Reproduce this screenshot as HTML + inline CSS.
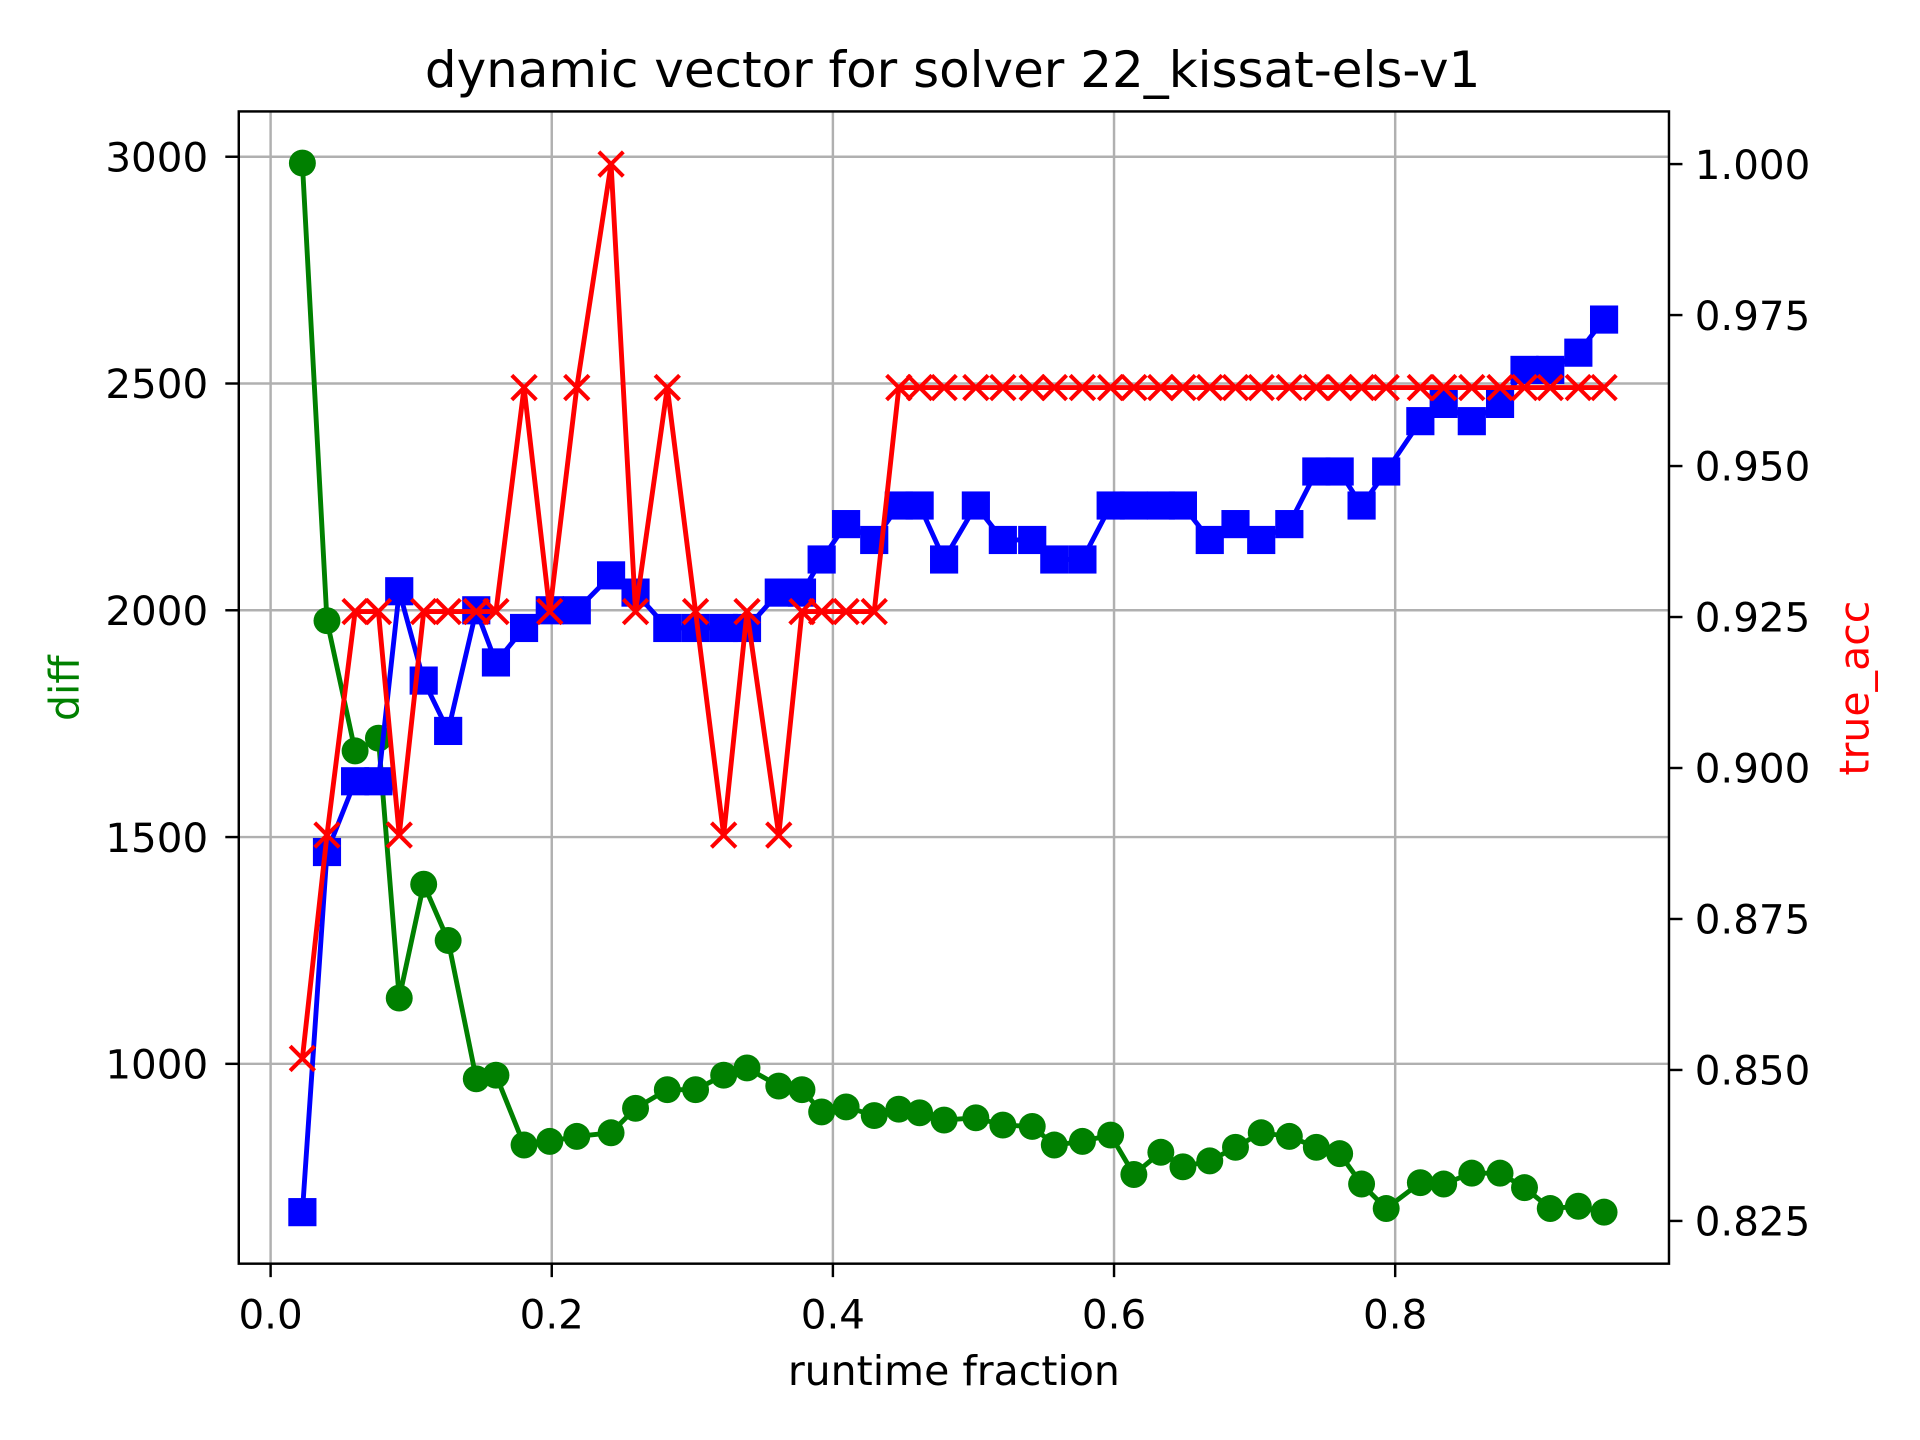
<!DOCTYPE html>
<html><head><meta charset="utf-8"><style>html,body{margin:0;padding:0;background:#fff}svg{display:block}</style></head>
<body>
<svg id="chart" width="1920" height="1440" viewBox="0 0 1568 1176" xmlns="http://www.w3.org/2000/svg" font-family="DejaVu Sans, Liberation Sans, sans-serif">
<rect width="1568" height="1176" fill="#fff"/>
<g id="grid"></g>
<g id="series"></g>
<rect x="195" y="91" width="1168" height="941" fill="none" stroke="#000" stroke-width="2"/>
<g id="axes"></g>
<text x="778" y="71" font-size="40.8" text-anchor="middle">dynamic vector for solver 22_kissat-els-v1</text>
<text x="779" y="1131" font-size="33.5" text-anchor="middle">runtime fraction</text>
<text transform="translate(64,562) rotate(-90)" font-size="33.5" text-anchor="middle" fill="green">diff</text>
<text transform="translate(1526,562) rotate(-90)" font-size="33.5" text-anchor="middle" fill="red">true_acc</text>
</svg>
<script>
const xs=[0.0226,0.0401,0.0601,0.0767,0.0915,0.1089,0.1263,0.1463,0.1603,0.1803,0.1986,0.2178,0.2422,0.2596,0.2822,0.3023,0.3223,0.3389,0.3615,0.3780,0.3920,0.4094,0.4294,0.4469,0.4617,0.4791,0.5017,0.5209,0.5418,0.5575,0.5775,0.5976,0.6141,0.6333,0.6490,0.6681,0.6864,0.7047,0.7247,0.7439,0.7605,0.7761,0.7936,0.8179,0.8345,0.8545,0.8746,0.8920,0.9103,0.9303,0.9486];
const diffVals=[2986,1977,1690,1718,1145,1396,1272,967,975,821,829,840,848,902,943,943,975,991,951,943,894,905,886,900,892,876,881,865,862,821,829,843,756,805,773,786,816,848,840,816,802,735,681,738,735,759,759,727,681,686,673];
const blueVals=[673,1467,1623,1623,2042,1845,1734,2000,1885,1961,2000,2000,2077,2039,1961,1961,1961,1961,2039,2039,2112,2190,2155,2231,2231,2112,2231,2155,2155,2112,2112,2231,2231,2231,2231,2155,2190,2155,2190,2306,2306,2231,2306,2417,2455,2417,2455,2530,2530,2568,2641];
const accVals=[0.8519,0.8889,0.9259,0.9259,0.8889,0.9259,0.9259,0.9259,0.9259,0.963,0.9259,0.963,1.0,0.9259,0.963,0.9259,0.8889,0.9259,0.8889,0.9259,0.9259,0.9259,0.9259,0.963,0.963,0.963,0.963,0.963,0.963,0.963,0.963,0.963,0.963,0.963,0.963,0.963,0.963,0.963,0.963,0.963,0.963,0.963,0.963,0.963,0.963,0.963,0.963,0.963,0.963,0.963,0.963];
const xTicks=[0,0.2,0.4,0.6,0.8];
const xTickLabels=["0.0","0.2","0.4","0.6","0.8"];
const yTicks=[1000,1500,2000,2500,3000];
const yTickLabels=["1000","1500","2000","2500","3000"];
const rTicks=[0.825,0.85,0.875,0.9,0.925,0.95,0.975,1.0];
const rTickLabels=["0.825","0.850","0.875","0.900","0.925","0.950","0.975","1.000"];

const NS="http://www.w3.org/2000/svg";
const FS=33;
const X=v=>221+v*1148;
const YL=v=>128+(3000-v)/500*185.2;
const YR=v=>134+(1-v)/0.025*123.3;
function mk(tag,attrs,parent){const e=document.createElementNS(NS,tag);for(const k in attrs)e.setAttribute(k,attrs[k]);parent.appendChild(e);return e;}
const grid=document.getElementById('grid'),axes=document.getElementById('axes'),ser=document.getElementById('series');
xTicks.forEach((t,i)=>{
  const g=mk('line',{x1:X(t),x2:X(t),y1:91,y2:1032,stroke:'#b0b0b0','stroke-width':2},grid);
  
  const tk=mk('line',{x1:X(t),x2:X(t),y1:1032,y2:1043,stroke:'#000','stroke-width':2},axes);
  
  const tx=mk('text',{x:X(t),y:1085,'font-size':FS,'text-anchor':'middle'},axes);tx.textContent=xTickLabels[i];
  
});
yTicks.forEach((t,i)=>{
  const g=mk('line',{x1:195,x2:1363,y1:YL(t),y2:YL(t),stroke:'#b0b0b0','stroke-width':2},grid);
  
  const tk=mk('line',{x1:184,x2:195,y1:YL(t),y2:YL(t),stroke:'#000','stroke-width':2},axes);
  
  const tx=mk('text',{x:170,y:YL(t)+12,'font-size':FS,'text-anchor':'end'},axes);tx.textContent=yTickLabels[i];
  
});
rTicks.forEach((t,i)=>{
  const tk=mk('line',{x1:1363,x2:1374,y1:YR(t),y2:YR(t),stroke:'#000','stroke-width':2},axes);
  
  const tx=mk('text',{x:1384,y:YR(t)+12,'font-size':FS,'text-anchor':'start'},axes);tx.textContent=rTickLabels[i];
  
});
function poly(vals,Y,color,name){
  const p=mk('polyline',{points:vals.map((v,i)=>X(xs[i])+','+Y(v)).join(' '),fill:'none',stroke:color,'stroke-width':4,'stroke-linejoin':'round'},ser);
  
}
poly(diffVals,YL,'green','diff-line');
diffVals.forEach((v,i)=>{
  const c=mk('circle',{cx:X(xs[i]),cy:YL(v),r:11,fill:'green'},ser);
  
});
poly(blueVals,YL,'blue','blue-series-line');
blueVals.forEach((v,i)=>{
  const s=mk('rect',{x:X(xs[i])-11.5,y:YL(v)-11.5,width:23,height:23,fill:'blue'},ser);
  
});
poly(accVals,YR,'red','true-acc-line');
accVals.forEach((v,i)=>{
  const cx=X(xs[i]),cy=YR(v),d=10;
  const m=mk('path',{d:`M${cx-d},${cy-d}L${cx+d},${cy+d}M${cx-d},${cy+d}L${cx+d},${cy-d}`,stroke:'red','stroke-width':3.3,fill:'none'},ser);
  
});
</script>
</body></html>
